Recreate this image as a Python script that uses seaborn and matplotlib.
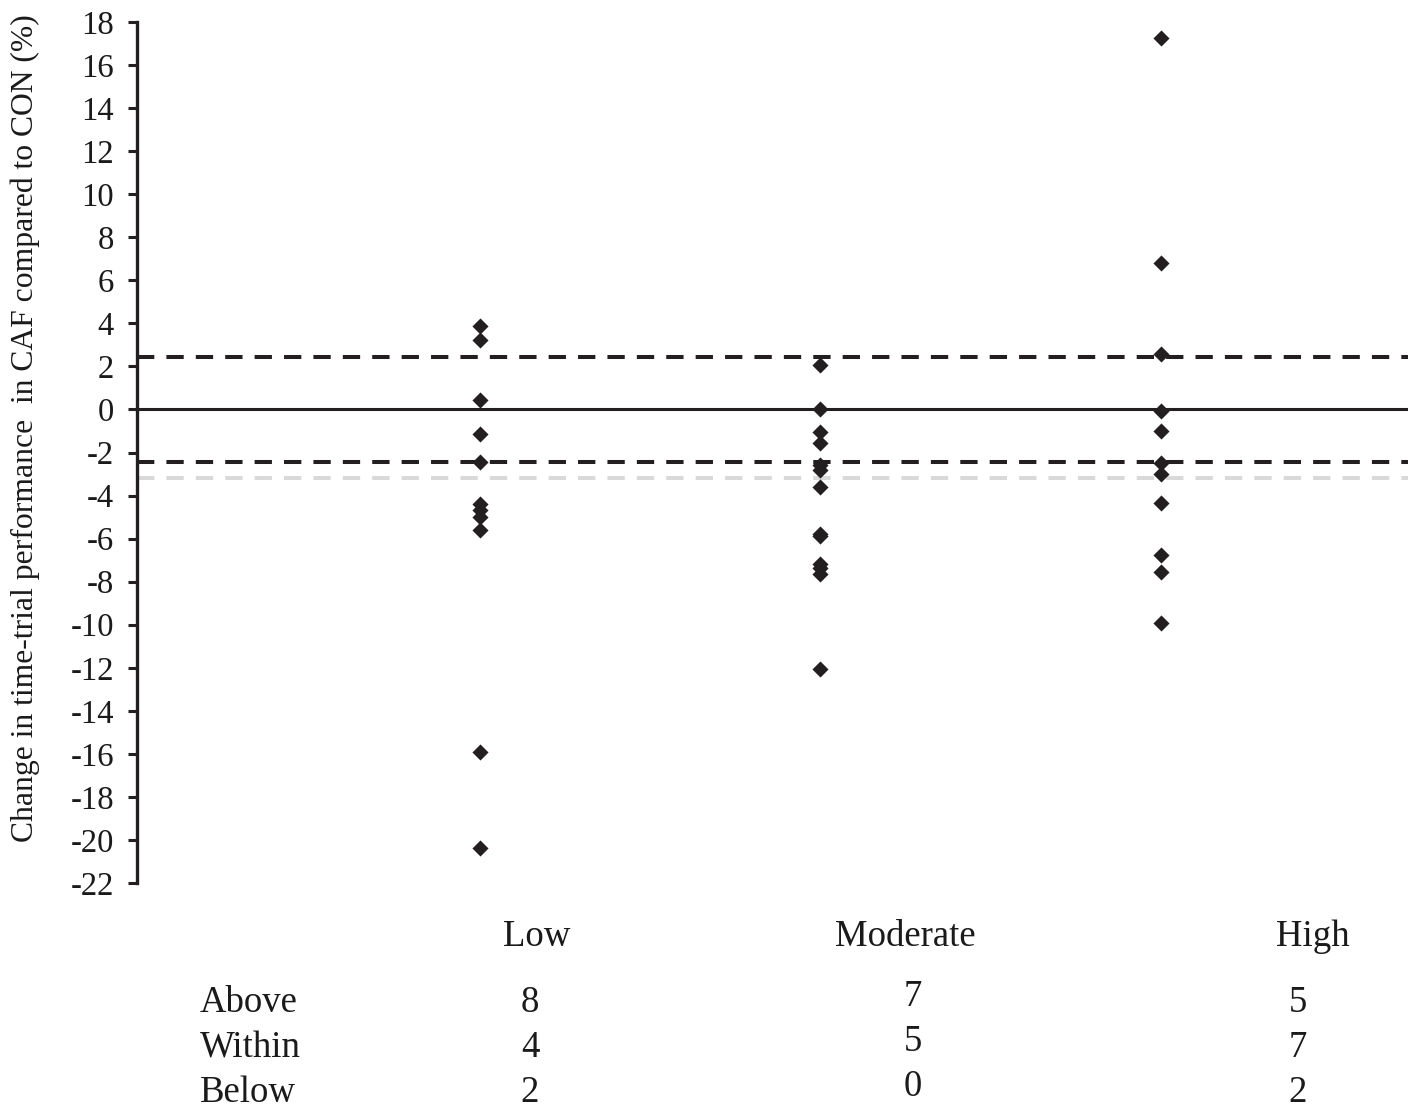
import matplotlib
matplotlib.use("Agg")
import matplotlib.pyplot as plt
import seaborn as sns
import pandas as pd

# Individual changes in time-trial performance (%), CAF vs CON, by responder group
groups = ["Low", "Moderate", "High"]
low_vals = [3.86, 3.21, 0.42, -1.12, -2.42, -4.37, -4.65, -4.98, -5.58, -15.9, -20.37]
moderate_vals = [2.05, 0.0, -1.07, -1.58, -2.56, -2.79, -3.58, -5.77, -5.9,
                 -7.16, -7.35, -7.63, -12.05]
high_vals = [17.26, 6.79, 2.56, -0.09, -0.98, -2.47, -3.02, -4.33, -6.74, -7.53, -9.91]

# Reference thresholds
swc = 2.45            # smallest worthwhile change (+/-)
grey_ref = -3.2       # additional reference line

# Counts table below the chart
row_labels = ["Above", "Within", "Below"]
above_counts = [8, 7, 5]
within_counts = [4, 5, 7]
below_counts = [2, 0, 2]

y_ticks = list(range(-22, 19, 2))

df = pd.DataFrame({
    "group": ["Low"] * len(low_vals) + ["Moderate"] * len(moderate_vals) + ["High"] * len(high_vals),
    "change": low_vals + moderate_vals + high_vals,
})

sns.set_theme(style="white")
plt.rcParams["font.family"] = ["Liberation Serif", "DejaVu Serif"]

W, H = 1420, 1111
fig = plt.figure(figsize=(W / 100, H / 100), dpi=100)
ax = fig.add_axes([137 / W, 1 - 883 / H, (1408 - 137) / W, (883 - 22) / H])

ink = "#231f20"

ax.axhline(0, color=ink, lw=2.2, zorder=1)
for yv in (swc, -swc):
    ax.axhline(yv, color=ink, lw=2.9, dashes=(4.3, 3.0), zorder=1)
ax.axhline(grey_ref, color="#d9d9d9", lw=2.9, dashes=(4.3, 3.0), zorder=0)

sns.stripplot(data=df, x="group", y="change", order=groups, jitter=False,
              marker="D", size=8.2, color=ink, linewidth=0, ax=ax, zorder=3)

ax.set_xlim(-1.007, 2.726)
ax.set_ylim(-22, 18)
ax.set_yticks(y_ticks)
ax.set_yticklabels([str(t) for t in y_ticks], fontsize=23.5, color="#1a1a1a")
ax.set_xticks([])
ax.set_xlabel("")
ax.set_ylabel("")
for side in ("top", "right", "bottom"):
    ax.spines[side].set_visible(False)
ax.spines["left"].set_color(ink)
ax.spines["left"].set_linewidth(2.4)
ax.tick_params(axis="y", direction="out", length=6.5, width=2.2, color=ink, pad=10, left=True)

fig.text(25 / W, 1 - 428 / H, "Change in time-trial performance  in CAF compared to CON (%)",
         rotation=90, ha="center", va="center", fontsize=22.8, color="#1a1a1a")

# Group labels
label_x = [537, 905, 1313]
for name, px in zip(groups, label_x):
    fig.text(px / W, 1 - 937 / H, name, ha="center", va="center", fontsize=26.5, color="#1a1a1a")

# Counts table
row_y = [1003, 1048, 1093]
col_x = [530, 913, 1298]
col_dy = [0, -6, 0]
for lab, py in zip(row_labels, row_y):
    fig.text(200 / W, 1 - py / H, lab, ha="left", va="center", fontsize=26.5, color="#1a1a1a")
for counts, py in zip([above_counts, within_counts, below_counts], row_y):
    for c, px, dy in zip(counts, col_x, col_dy):
        fig.text(px / W, 1 - (py + dy) / H, str(c), ha="center", va="center",
                 fontsize=26.5, color="#1a1a1a")

fig.savefig("out.png", dpi=100, facecolor="white")
